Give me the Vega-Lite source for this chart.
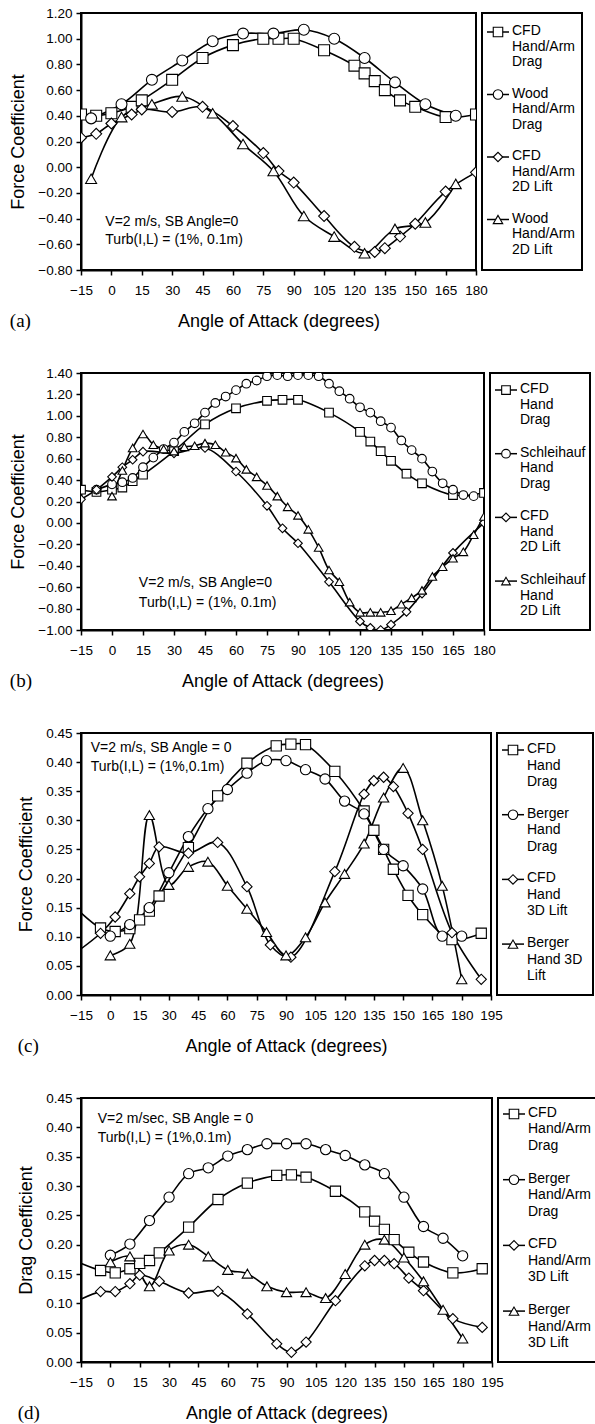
{
"$schema": "https://vega.github.io/schema/vega-lite/v6.json",
"background": "white",
"padding": {"left": 8, "top": 5, "right": 0, "bottom": 0},
"autosize": {"type": "pad"},
"spacing": 33,
"resolve": {"scale": {"shape": "independent"}},
"config": {
  "view": {"stroke": "black", "strokeWidth": 2},
  "font": "Liberation Sans",
  "axis": {"labelFont": "Liberation Sans", "labelFontSize": 13.5, "labelColor": "black", "titleFont": "Liberation Sans", "titleFontSize": 18, "titleFontWeight": "normal", "titleColor": "black", "domainColor": "black", "domainWidth": 2, "tickColor": "black", "tickWidth": 1.5, "tickSize": 5, "grid": false, "labelFlush": false, "labelOverlap": false},
  "axisX": {"labelPadding": 8, "titlePadding": 16},
  "axisY": {"labelPadding": 4, "titlePadding": 10},
  "title": {"font": "Liberation Serif", "fontSize": 19, "fontWeight": "normal", "color": "black"}
},
"datasets": {
"a": [
{"series":"CFD Hand/Arm Drag","angle":-15,"value":0.41},{"series":"CFD Hand/Arm Drag","angle":-7.5,"value":0.40},{"series":"CFD Hand/Arm Drag","angle":0,"value":0.42},{"series":"CFD Hand/Arm Drag","angle":10,"value":0.47},{"series":"CFD Hand/Arm Drag","angle":15,"value":0.52},{"series":"CFD Hand/Arm Drag","angle":30,"value":0.68},{"series":"CFD Hand/Arm Drag","angle":45,"value":0.85},{"series":"CFD Hand/Arm Drag","angle":60,"value":0.95},{"series":"CFD Hand/Arm Drag","angle":75,"value":1.00},{"series":"CFD Hand/Arm Drag","angle":82.5,"value":1.00},{"series":"CFD Hand/Arm Drag","angle":90,"value":1.00},{"series":"CFD Hand/Arm Drag","angle":105,"value":0.91},{"series":"CFD Hand/Arm Drag","angle":120,"value":0.79},{"series":"CFD Hand/Arm Drag","angle":125,"value":0.73},{"series":"CFD Hand/Arm Drag","angle":130,"value":0.67},{"series":"CFD Hand/Arm Drag","angle":135,"value":0.60},{"series":"CFD Hand/Arm Drag","angle":142.5,"value":0.52},{"series":"CFD Hand/Arm Drag","angle":150,"value":0.47},{"series":"CFD Hand/Arm Drag","angle":165,"value":0.39},{"series":"CFD Hand/Arm Drag","angle":180,"value":0.41},
{"series":"Wood Hand/Arm Drag","angle":-10,"value":0.38},{"series":"Wood Hand/Arm Drag","angle":5,"value":0.49},{"series":"Wood Hand/Arm Drag","angle":20,"value":0.68},{"series":"Wood Hand/Arm Drag","angle":35,"value":0.83},{"series":"Wood Hand/Arm Drag","angle":50,"value":0.98},{"series":"Wood Hand/Arm Drag","angle":65,"value":1.04},{"series":"Wood Hand/Arm Drag","angle":80,"value":1.04},{"series":"Wood Hand/Arm Drag","angle":95,"value":1.07},{"series":"Wood Hand/Arm Drag","angle":110,"value":1.00},{"series":"Wood Hand/Arm Drag","angle":125,"value":0.85},{"series":"Wood Hand/Arm Drag","angle":140,"value":0.66},{"series":"Wood Hand/Arm Drag","angle":155,"value":0.49},{"series":"Wood Hand/Arm Drag","angle":170,"value":0.40},
{"series":"CFD Hand/Arm 2D Lift","angle":-15,"value":0.23},{"series":"CFD Hand/Arm 2D Lift","angle":-7.5,"value":0.26},{"series":"CFD Hand/Arm 2D Lift","angle":0,"value":0.34},{"series":"CFD Hand/Arm 2D Lift","angle":10,"value":0.41},{"series":"CFD Hand/Arm 2D Lift","angle":15,"value":0.45},{"series":"CFD Hand/Arm 2D Lift","angle":30,"value":0.43},{"series":"CFD Hand/Arm 2D Lift","angle":45,"value":0.47},{"series":"CFD Hand/Arm 2D Lift","angle":60,"value":0.32},{"series":"CFD Hand/Arm 2D Lift","angle":75,"value":0.11},{"series":"CFD Hand/Arm 2D Lift","angle":82.5,"value":-0.03},{"series":"CFD Hand/Arm 2D Lift","angle":90,"value":-0.12},{"series":"CFD Hand/Arm 2D Lift","angle":105,"value":-0.38},{"series":"CFD Hand/Arm 2D Lift","angle":120,"value":-0.62},{"series":"CFD Hand/Arm 2D Lift","angle":130,"value":-0.66},{"series":"CFD Hand/Arm 2D Lift","angle":135,"value":-0.63},{"series":"CFD Hand/Arm 2D Lift","angle":142.5,"value":-0.54},{"series":"CFD Hand/Arm 2D Lift","angle":150,"value":-0.44},{"series":"CFD Hand/Arm 2D Lift","angle":165,"value":-0.19},{"series":"CFD Hand/Arm 2D Lift","angle":180,"value":-0.04},
{"series":"Wood Hand/Arm 2D Lift","angle":-10,"value":-0.09},{"series":"Wood Hand/Arm 2D Lift","angle":5,"value":0.39},{"series":"Wood Hand/Arm 2D Lift","angle":20,"value":0.49},{"series":"Wood Hand/Arm 2D Lift","angle":35,"value":0.55},{"series":"Wood Hand/Arm 2D Lift","angle":50,"value":0.42},{"series":"Wood Hand/Arm 2D Lift","angle":65,"value":0.18},{"series":"Wood Hand/Arm 2D Lift","angle":80,"value":-0.03},{"series":"Wood Hand/Arm 2D Lift","angle":95,"value":-0.38},{"series":"Wood Hand/Arm 2D Lift","angle":110,"value":-0.54},{"series":"Wood Hand/Arm 2D Lift","angle":125,"value":-0.67},{"series":"Wood Hand/Arm 2D Lift","angle":140,"value":-0.48},{"series":"Wood Hand/Arm 2D Lift","angle":155,"value":-0.43},{"series":"Wood Hand/Arm 2D Lift","angle":170,"value":-0.13}
],
"b": [
{"series":"CFD Hand Drag","angle":-15,"value":0.31},{"series":"CFD Hand Drag","angle":-7.5,"value":0.29},{"series":"CFD Hand Drag","angle":0,"value":0.31},{"series":"CFD Hand Drag","angle":5,"value":0.33},{"series":"CFD Hand Drag","angle":10,"value":0.39},{"series":"CFD Hand Drag","angle":15,"value":0.45},{"series":"CFD Hand Drag","angle":30,"value":0.67},{"series":"CFD Hand Drag","angle":45,"value":0.92},{"series":"CFD Hand Drag","angle":60,"value":1.07},{"series":"CFD Hand Drag","angle":75,"value":1.14},{"series":"CFD Hand Drag","angle":82.5,"value":1.15},{"series":"CFD Hand Drag","angle":90,"value":1.15},{"series":"CFD Hand Drag","angle":105,"value":1.03},{"series":"CFD Hand Drag","angle":120,"value":0.85},{"series":"CFD Hand Drag","angle":125,"value":0.76},{"series":"CFD Hand Drag","angle":130,"value":0.67},{"series":"CFD Hand Drag","angle":135,"value":0.58},{"series":"CFD Hand Drag","angle":142.5,"value":0.46},{"series":"CFD Hand Drag","angle":150,"value":0.37},{"series":"CFD Hand Drag","angle":165,"value":0.26},{"series":"CFD Hand Drag","angle":180,"value":0.28},
{"series":"Schleihauf Hand Drag","angle":-7.5,"value":0.31},{"series":"Schleihauf Hand Drag","angle":0,"value":0.36},{"series":"Schleihauf Hand Drag","angle":5,"value":0.38},{"series":"Schleihauf Hand Drag","angle":10,"value":0.42},{"series":"Schleihauf Hand Drag","angle":15,"value":0.52},{"series":"Schleihauf Hand Drag","angle":20,"value":0.61},{"series":"Schleihauf Hand Drag","angle":25,"value":0.69},{"series":"Schleihauf Hand Drag","angle":30,"value":0.75},{"series":"Schleihauf Hand Drag","angle":35,"value":0.85},{"series":"Schleihauf Hand Drag","angle":40,"value":0.93},{"series":"Schleihauf Hand Drag","angle":45,"value":1.03},{"series":"Schleihauf Hand Drag","angle":50,"value":1.12},{"series":"Schleihauf Hand Drag","angle":55,"value":1.18},{"series":"Schleihauf Hand Drag","angle":60,"value":1.24},{"series":"Schleihauf Hand Drag","angle":65,"value":1.30},{"series":"Schleihauf Hand Drag","angle":70,"value":1.33},{"series":"Schleihauf Hand Drag","angle":75,"value":1.37},{"series":"Schleihauf Hand Drag","angle":80,"value":1.38},{"series":"Schleihauf Hand Drag","angle":85,"value":1.37},{"series":"Schleihauf Hand Drag","angle":90,"value":1.38},{"series":"Schleihauf Hand Drag","angle":95,"value":1.38},{"series":"Schleihauf Hand Drag","angle":100,"value":1.37},{"series":"Schleihauf Hand Drag","angle":105,"value":1.30},{"series":"Schleihauf Hand Drag","angle":110,"value":1.23},{"series":"Schleihauf Hand Drag","angle":115,"value":1.16},{"series":"Schleihauf Hand Drag","angle":120,"value":1.08},{"series":"Schleihauf Hand Drag","angle":125,"value":1.03},{"series":"Schleihauf Hand Drag","angle":130,"value":0.95},{"series":"Schleihauf Hand Drag","angle":135,"value":0.89},{"series":"Schleihauf Hand Drag","angle":140,"value":0.77},{"series":"Schleihauf Hand Drag","angle":145,"value":0.68},{"series":"Schleihauf Hand Drag","angle":150,"value":0.60},{"series":"Schleihauf Hand Drag","angle":155,"value":0.48},{"series":"Schleihauf Hand Drag","angle":160,"value":0.37},{"series":"Schleihauf Hand Drag","angle":165,"value":0.31},{"series":"Schleihauf Hand Drag","angle":170,"value":0.26},{"series":"Schleihauf Hand Drag","angle":175,"value":0.25},
{"series":"CFD Hand 2D Lift","angle":-15,"value":0.22},{"series":"CFD Hand 2D Lift","angle":-7.5,"value":0.31},{"series":"CFD Hand 2D Lift","angle":0,"value":0.43},{"series":"CFD Hand 2D Lift","angle":5,"value":0.52},{"series":"CFD Hand 2D Lift","angle":10,"value":0.59},{"series":"CFD Hand 2D Lift","angle":15,"value":0.665},{"series":"CFD Hand 2D Lift","angle":30,"value":0.65},{"series":"CFD Hand 2D Lift","angle":45,"value":0.70},{"series":"CFD Hand 2D Lift","angle":60,"value":0.48},{"series":"CFD Hand 2D Lift","angle":75,"value":0.16},{"series":"CFD Hand 2D Lift","angle":82.5,"value":-0.05},{"series":"CFD Hand 2D Lift","angle":90,"value":-0.19},{"series":"CFD Hand 2D Lift","angle":105,"value":-0.55},{"series":"CFD Hand 2D Lift","angle":120,"value":-0.92},{"series":"CFD Hand 2D Lift","angle":125,"value":-0.98},{"series":"CFD Hand 2D Lift","angle":130,"value":-1.00},{"series":"CFD Hand 2D Lift","angle":135,"value":-0.95},{"series":"CFD Hand 2D Lift","angle":142.5,"value":-0.83},{"series":"CFD Hand 2D Lift","angle":150,"value":-0.66},{"series":"CFD Hand 2D Lift","angle":165,"value":-0.28},{"series":"CFD Hand 2D Lift","angle":180,"value":0.0},
{"series":"Schleihauf Hand 2D Lift","angle":0,"value":0.25},{"series":"Schleihauf Hand 2D Lift","angle":5,"value":0.49},{"series":"Schleihauf Hand 2D Lift","angle":10,"value":0.70},{"series":"Schleihauf Hand 2D Lift","angle":15,"value":0.83},{"series":"Schleihauf Hand 2D Lift","angle":20,"value":0.73},{"series":"Schleihauf Hand 2D Lift","angle":25,"value":0.69},{"series":"Schleihauf Hand 2D Lift","angle":30,"value":0.67},{"series":"Schleihauf Hand 2D Lift","angle":35,"value":0.71},{"series":"Schleihauf Hand 2D Lift","angle":40,"value":0.72},{"series":"Schleihauf Hand 2D Lift","angle":45,"value":0.745},{"series":"Schleihauf Hand 2D Lift","angle":50,"value":0.73},{"series":"Schleihauf Hand 2D Lift","angle":55,"value":0.66},{"series":"Schleihauf Hand 2D Lift","angle":60,"value":0.605},{"series":"Schleihauf Hand 2D Lift","angle":65,"value":0.50},{"series":"Schleihauf Hand 2D Lift","angle":70,"value":0.43},{"series":"Schleihauf Hand 2D Lift","angle":75,"value":0.35},{"series":"Schleihauf Hand 2D Lift","angle":80,"value":0.25},{"series":"Schleihauf Hand 2D Lift","angle":85,"value":0.15},{"series":"Schleihauf Hand 2D Lift","angle":90,"value":0.07},{"series":"Schleihauf Hand 2D Lift","angle":95,"value":-0.06},{"series":"Schleihauf Hand 2D Lift","angle":100,"value":-0.23},{"series":"Schleihauf Hand 2D Lift","angle":105,"value":-0.44},{"series":"Schleihauf Hand 2D Lift","angle":110,"value":-0.55},{"series":"Schleihauf Hand 2D Lift","angle":115,"value":-0.74},{"series":"Schleihauf Hand 2D Lift","angle":120,"value":-0.835},{"series":"Schleihauf Hand 2D Lift","angle":125,"value":-0.835},{"series":"Schleihauf Hand 2D Lift","angle":130,"value":-0.835},{"series":"Schleihauf Hand 2D Lift","angle":135,"value":-0.82},{"series":"Schleihauf Hand 2D Lift","angle":140,"value":-0.76},{"series":"Schleihauf Hand 2D Lift","angle":145,"value":-0.70},{"series":"Schleihauf Hand 2D Lift","angle":150,"value":-0.63},{"series":"Schleihauf Hand 2D Lift","angle":155,"value":-0.50},{"series":"Schleihauf Hand 2D Lift","angle":160,"value":-0.41},{"series":"Schleihauf Hand 2D Lift","angle":165,"value":-0.33},{"series":"Schleihauf Hand 2D Lift","angle":170,"value":-0.27},{"series":"Schleihauf Hand 2D Lift","angle":175,"value":-0.11},{"series":"Schleihauf Hand 2D Lift","angle":180,"value":0.06}
],
"c": [
{"series":"CFD Hand Drag","angle":-20,"value":0.157},{"series":"CFD Hand Drag","angle":-5,"value":0.115},{"series":"CFD Hand Drag","angle":2.5,"value":0.109},{"series":"CFD Hand Drag","angle":10,"value":0.114},{"series":"CFD Hand Drag","angle":15,"value":0.129},{"series":"CFD Hand Drag","angle":20,"value":0.144},{"series":"CFD Hand Drag","angle":25,"value":0.17},{"series":"CFD Hand Drag","angle":40,"value":0.253},{"series":"CFD Hand Drag","angle":55,"value":0.342},{"series":"CFD Hand Drag","angle":70,"value":0.398},{"series":"CFD Hand Drag","angle":85,"value":0.428},{"series":"CFD Hand Drag","angle":92.5,"value":0.431},{"series":"CFD Hand Drag","angle":100,"value":0.43},{"series":"CFD Hand Drag","angle":115,"value":0.384},{"series":"CFD Hand Drag","angle":130,"value":0.316},{"series":"CFD Hand Drag","angle":135,"value":0.283},{"series":"CFD Hand Drag","angle":140,"value":0.25},{"series":"CFD Hand Drag","angle":145,"value":0.216},{"series":"CFD Hand Drag","angle":152.5,"value":0.171},{"series":"CFD Hand Drag","angle":160,"value":0.138},{"series":"CFD Hand Drag","angle":175,"value":0.095},{"series":"CFD Hand Drag","angle":190,"value":0.106},
{"series":"Berger Hand Drag","angle":0,"value":0.101},{"series":"Berger Hand Drag","angle":10,"value":0.121},{"series":"Berger Hand Drag","angle":20,"value":0.150},{"series":"Berger Hand Drag","angle":30,"value":0.21},{"series":"Berger Hand Drag","angle":40,"value":0.272},{"series":"Berger Hand Drag","angle":50,"value":0.32},{"series":"Berger Hand Drag","angle":60,"value":0.353},{"series":"Berger Hand Drag","angle":70,"value":0.381},{"series":"Berger Hand Drag","angle":80,"value":0.4025},{"series":"Berger Hand Drag","angle":90,"value":0.4025},{"series":"Berger Hand Drag","angle":100,"value":0.387},{"series":"Berger Hand Drag","angle":110,"value":0.371},{"series":"Berger Hand Drag","angle":120,"value":0.333},{"series":"Berger Hand Drag","angle":130,"value":0.311},{"series":"Berger Hand Drag","angle":140,"value":0.25},{"series":"Berger Hand Drag","angle":150,"value":0.222},{"series":"Berger Hand Drag","angle":160,"value":0.182},{"series":"Berger Hand Drag","angle":170,"value":0.101},{"series":"Berger Hand Drag","angle":180,"value":0.101},
{"series":"CFD Hand 3D Lift","angle":-20,"value":0.067},{"series":"CFD Hand 3D Lift","angle":-5,"value":0.106},{"series":"CFD Hand 3D Lift","angle":2.5,"value":0.134},{"series":"CFD Hand 3D Lift","angle":10,"value":0.174},{"series":"CFD Hand 3D Lift","angle":15,"value":0.203},{"series":"CFD Hand 3D Lift","angle":20,"value":0.226},{"series":"CFD Hand 3D Lift","angle":25,"value":0.2545},{"series":"CFD Hand 3D Lift","angle":40,"value":0.2436},{"series":"CFD Hand 3D Lift","angle":55,"value":0.262},{"series":"CFD Hand 3D Lift","angle":70,"value":0.186},{"series":"CFD Hand 3D Lift","angle":82,"value":0.086},{"series":"CFD Hand 3D Lift","angle":92.5,"value":0.065},{"series":"CFD Hand 3D Lift","angle":115,"value":0.212},{"series":"CFD Hand 3D Lift","angle":130,"value":0.345},{"series":"CFD Hand 3D Lift","angle":135,"value":0.368},{"series":"CFD Hand 3D Lift","angle":140,"value":0.374},{"series":"CFD Hand 3D Lift","angle":145,"value":0.358},{"series":"CFD Hand 3D Lift","angle":152.5,"value":0.312},{"series":"CFD Hand 3D Lift","angle":160,"value":0.25},{"series":"CFD Hand 3D Lift","angle":175,"value":0.107},{"series":"CFD Hand 3D Lift","angle":190,"value":0.027},
{"series":"Berger Hand 3D Lift","angle":0,"value":0.068},{"series":"Berger Hand 3D Lift","angle":10,"value":0.088},{"series":"Berger Hand 3D Lift","angle":20,"value":0.309},{"series":"Berger Hand 3D Lift","angle":30,"value":0.189},{"series":"Berger Hand 3D Lift","angle":40,"value":0.22},{"series":"Berger Hand 3D Lift","angle":50,"value":0.229},{"series":"Berger Hand 3D Lift","angle":60,"value":0.1875},{"series":"Berger Hand 3D Lift","angle":70,"value":0.148},{"series":"Berger Hand 3D Lift","angle":80,"value":0.108},{"series":"Berger Hand 3D Lift","angle":90,"value":0.068},{"series":"Berger Hand 3D Lift","angle":100,"value":0.099},{"series":"Berger Hand 3D Lift","angle":110,"value":0.159},{"series":"Berger Hand 3D Lift","angle":120,"value":0.208},{"series":"Berger Hand 3D Lift","angle":130,"value":0.26},{"series":"Berger Hand 3D Lift","angle":140,"value":0.339},{"series":"Berger Hand 3D Lift","angle":150,"value":0.39},{"series":"Berger Hand 3D Lift","angle":160,"value":0.30},{"series":"Berger Hand 3D Lift","angle":170,"value":0.1875},{"series":"Berger Hand 3D Lift","angle":180,"value":0.027}
],
"d": [
{"series":"CFD Hand/Arm Drag","angle":-20,"value":0.175},{"series":"CFD Hand/Arm Drag","angle":-5,"value":0.156},{"series":"CFD Hand/Arm Drag","angle":2.5,"value":0.152},{"series":"CFD Hand/Arm Drag","angle":10,"value":0.159},{"series":"CFD Hand/Arm Drag","angle":15,"value":0.168},{"series":"CFD Hand/Arm Drag","angle":20,"value":0.173},{"series":"CFD Hand/Arm Drag","angle":25,"value":0.186},{"series":"CFD Hand/Arm Drag","angle":40,"value":0.230},{"series":"CFD Hand/Arm Drag","angle":55,"value":0.277},{"series":"CFD Hand/Arm Drag","angle":70,"value":0.305},{"series":"CFD Hand/Arm Drag","angle":85,"value":0.318},{"series":"CFD Hand/Arm Drag","angle":92.5,"value":0.319},{"series":"CFD Hand/Arm Drag","angle":100,"value":0.315},{"series":"CFD Hand/Arm Drag","angle":115,"value":0.291},{"series":"CFD Hand/Arm Drag","angle":130,"value":0.256},{"series":"CFD Hand/Arm Drag","angle":135,"value":0.24},{"series":"CFD Hand/Arm Drag","angle":140,"value":0.226},{"series":"CFD Hand/Arm Drag","angle":145,"value":0.2085},{"series":"CFD Hand/Arm Drag","angle":152.5,"value":0.187},{"series":"CFD Hand/Arm Drag","angle":160,"value":0.1705},{"series":"CFD Hand/Arm Drag","angle":175,"value":0.152},{"series":"CFD Hand/Arm Drag","angle":190,"value":0.159},
{"series":"Berger Hand/Arm Drag","angle":0,"value":0.182},{"series":"Berger Hand/Arm Drag","angle":10,"value":0.201},{"series":"Berger Hand/Arm Drag","angle":20,"value":0.241},{"series":"Berger Hand/Arm Drag","angle":30,"value":0.281},{"series":"Berger Hand/Arm Drag","angle":40,"value":0.321},{"series":"Berger Hand/Arm Drag","angle":50,"value":0.331},{"series":"Berger Hand/Arm Drag","angle":60,"value":0.351},{"series":"Berger Hand/Arm Drag","angle":70,"value":0.362},{"series":"Berger Hand/Arm Drag","angle":80,"value":0.372},{"series":"Berger Hand/Arm Drag","angle":90,"value":0.372},{"series":"Berger Hand/Arm Drag","angle":100,"value":0.372},{"series":"Berger Hand/Arm Drag","angle":110,"value":0.362},{"series":"Berger Hand/Arm Drag","angle":120,"value":0.352},{"series":"Berger Hand/Arm Drag","angle":130,"value":0.336},{"series":"Berger Hand/Arm Drag","angle":140,"value":0.321},{"series":"Berger Hand/Arm Drag","angle":150,"value":0.281},{"series":"Berger Hand/Arm Drag","angle":160,"value":0.231},{"series":"Berger Hand/Arm Drag","angle":170,"value":0.211},{"series":"Berger Hand/Arm Drag","angle":180,"value":0.181},
{"series":"CFD Hand/Arm 3D Lift","angle":-20,"value":0.099},{"series":"CFD Hand/Arm 3D Lift","angle":-5,"value":0.120},{"series":"CFD Hand/Arm 3D Lift","angle":2.5,"value":0.120},{"series":"CFD Hand/Arm 3D Lift","angle":10,"value":0.1335},{"series":"CFD Hand/Arm 3D Lift","angle":15,"value":0.148},{"series":"CFD Hand/Arm 3D Lift","angle":25,"value":0.1375},{"series":"CFD Hand/Arm 3D Lift","angle":40,"value":0.1176},{"series":"CFD Hand/Arm 3D Lift","angle":55,"value":0.1205},{"series":"CFD Hand/Arm 3D Lift","angle":70,"value":0.082},{"series":"CFD Hand/Arm 3D Lift","angle":85,"value":0.031},{"series":"CFD Hand/Arm 3D Lift","angle":92.5,"value":0.0165},{"series":"CFD Hand/Arm 3D Lift","angle":100,"value":0.034},{"series":"CFD Hand/Arm 3D Lift","angle":115,"value":0.1045},{"series":"CFD Hand/Arm 3D Lift","angle":130,"value":0.164},{"series":"CFD Hand/Arm 3D Lift","angle":135,"value":0.173},{"series":"CFD Hand/Arm 3D Lift","angle":140,"value":0.173},{"series":"CFD Hand/Arm 3D Lift","angle":145,"value":0.1676},{"series":"CFD Hand/Arm 3D Lift","angle":152.5,"value":0.143},{"series":"CFD Hand/Arm 3D Lift","angle":160,"value":0.1216},{"series":"CFD Hand/Arm 3D Lift","angle":175,"value":0.0739},{"series":"CFD Hand/Arm 3D Lift","angle":190,"value":0.059},
{"series":"Berger Hand/Arm 3D Lift","angle":0,"value":0.170},{"series":"Berger Hand/Arm 3D Lift","angle":10,"value":0.180},{"series":"Berger Hand/Arm 3D Lift","angle":20,"value":0.129},{"series":"Berger Hand/Arm 3D Lift","angle":30,"value":0.19},{"series":"Berger Hand/Arm 3D Lift","angle":40,"value":0.20},{"series":"Berger Hand/Arm 3D Lift","angle":50,"value":0.180},{"series":"Berger Hand/Arm 3D Lift","angle":60,"value":0.157},{"series":"Berger Hand/Arm 3D Lift","angle":70,"value":0.1506},{"series":"Berger Hand/Arm 3D Lift","angle":80,"value":0.129},{"series":"Berger Hand/Arm 3D Lift","angle":90,"value":0.119},{"series":"Berger Hand/Arm 3D Lift","angle":100,"value":0.119},{"series":"Berger Hand/Arm 3D Lift","angle":110,"value":0.109},{"series":"Berger Hand/Arm 3D Lift","angle":120,"value":0.150},{"series":"Berger Hand/Arm 3D Lift","angle":130,"value":0.20},{"series":"Berger Hand/Arm 3D Lift","angle":140,"value":0.2085},{"series":"Berger Hand/Arm 3D Lift","angle":150,"value":0.178},{"series":"Berger Hand/Arm 3D Lift","angle":160,"value":0.1375},{"series":"Berger Hand/Arm 3D Lift","angle":170,"value":0.089},{"series":"Berger Hand/Arm 3D Lift","angle":180,"value":0.04}
],
"la": [
{"order":0,"series":"CFD Hand/Arm Drag","label":"CFD\nHand/Arm\nDrag"},
{"order":1,"series":"Wood Hand/Arm Drag","label":"Wood\nHand/Arm\nDrag"},
{"order":2,"series":"CFD Hand/Arm 2D Lift","label":"CFD\nHand/Arm\n2D Lift"},
{"order":3,"series":"Wood Hand/Arm 2D Lift","label":"Wood\nHand/Arm\n2D Lift"}
],
"lb": [
{"order":0,"series":"CFD Hand Drag","label":"CFD\nHand\nDrag"},
{"order":1,"series":"Schleihauf Hand Drag","label":"Schleihauf\nHand\nDrag"},
{"order":2,"series":"CFD Hand 2D Lift","label":"CFD\nHand\n2D Lift"},
{"order":3,"series":"Schleihauf Hand 2D Lift","label":"Schleihauf\nHand\n2D Lift"}
],
"lc": [
{"order":0,"series":"CFD Hand Drag","label":"CFD\nHand\nDrag"},
{"order":1,"series":"Berger Hand Drag","label":"Berger\nHand\nDrag"},
{"order":2,"series":"CFD Hand 3D Lift","label":"CFD\nHand\n3D Lift"},
{"order":3,"series":"Berger Hand 3D Lift","label":"Berger\nHand 3D\nLift"}
],
"ld": [
{"order":0,"series":"CFD Hand/Arm Drag","label":"CFD\nHand/Arm\nDrag"},
{"order":1,"series":"Berger Hand/Arm Drag","label":"Berger\nHand/Arm\nDrag"},
{"order":2,"series":"CFD Hand/Arm 3D Lift","label":"CFD\nHand/Arm\n3D Lift"},
{"order":3,"series":"Berger Hand/Arm 3D Lift","label":"Berger\nHand/Arm\n3D Lift"}
]
},
"vconcat": [
{"hconcat": [
{
 "width": 395, "height": 257,
 "title": {"text": "(a)", "orient": "bottom", "anchor": "start", "frame": "bounds", "offset": -19},
 "layer": [
  {"data": {"name": "a"},
   "mark": {"type": "line", "interpolate": "catmull-rom", "color": "black", "strokeWidth": 1.6, "clip": true},
   "encoding": {
    "x": {"field": "angle", "type": "quantitative", "scale": {"domain": [-15, 180], "nice": false, "zero": false}, "axis": {"title": "Angle of Attack (degrees)", "labelOverlap": false, "values": [-15,0,15,30,45,60,75,90,105,120,135,150,165,180]}},
    "y": {"field": "value", "type": "quantitative", "scale": {"domain": [-0.8, 1.2], "nice": false, "zero": false}, "axis": {"title": "Force Coefficient", "labelOverlap": false, "format": ".2f", "values": [-0.8,-0.6,-0.4,-0.2,0,0.2,0.4,0.6,0.8,1.0,1.2]}},
    "detail": {"field": "series"}}},
  {"data": {"name": "a"},
   "mark": {"type": "point", "filled": true, "fill": "white", "stroke": "black", "strokeWidth": 1.1, "opacity": 1, "size": 120, "clip": true},
   "encoding": {
    "x": {"field": "angle", "type": "quantitative", "scale": {"domain": [-15, 180], "nice": false, "zero": false}, "axis": {"title": "Angle of Attack (degrees)", "labelOverlap": false, "values": [-15,0,15,30,45,60,75,90,105,120,135,150,165,180]}},
    "y": {"field": "value", "type": "quantitative", "scale": {"domain": [-0.8, 1.2], "nice": false, "zero": false}, "axis": {"title": "Force Coefficient", "labelOverlap": false, "format": ".2f", "values": [-0.8,-0.6,-0.4,-0.2,0,0.2,0.4,0.6,0.8,1.0,1.2]}},
    "shape": {"field": "series", "type": "nominal", "scale": {"domain": ["CFD Hand/Arm Drag","Wood Hand/Arm Drag","CFD Hand/Arm 2D Lift","Wood Hand/Arm 2D Lift"], "range": ["square","circle","diamond","triangle-up"]}, "legend": null}}},
  {"data": {"values": [{}]},
   "mark": {"type": "text", "text": ["V=2 m/s, SB Angle=0", "Turb(I,L) = (1%, 0.1m)"], "align": "left", "baseline": "top", "fontSize": 14, "lineHeight": 18.5, "color": "black"},
   "encoding": {
    "x": {"datum": -3, "type": "quantitative", "scale": {"domain": [-15, 180], "nice": false, "zero": false}, "axis": {"title": "Angle of Attack (degrees)", "labelOverlap": false, "values": [-15,0,15,30,45,60,75,90,105,120,135,150,165,180]}},
    "y": {"datum": -0.37, "type": "quantitative", "scale": {"domain": [-0.8, 1.2], "nice": false, "zero": false}, "axis": {"title": "Force Coefficient", "labelOverlap": false, "format": ".2f", "values": [-0.8,-0.6,-0.4,-0.2,0,0.2,0.4,0.6,0.8,1.0,1.2]}}}}
 ]
},
{
 "width": 100, "height": 257,
 "data": {"name": "la"},
 "encoding": {
  "y": {"field": "order", "type": "quantitative", "scale": {"domain": [-0.304, 3.808], "reverse": true, "nice": false, "zero": false}, "axis": null}
 },
 "layer": [
  {"mark": {"type": "rule", "color": "black", "strokeWidth": 1.5}, "encoding": {"x": {"datum": 5, "type": "quantitative", "scale": {"domain": [0, 100], "nice": false}, "axis": null}, "x2": {"datum": 27}}},
  {"mark": {"type": "point", "filled": true, "fill": "white", "stroke": "black", "strokeWidth": 1.1, "opacity": 1, "size": 90},
   "encoding": {"x": {"datum": 16, "type": "quantitative"}, "shape": {"field": "series", "type": "nominal", "scale": {"domain": ["CFD Hand/Arm Drag","Wood Hand/Arm Drag","CFD Hand/Arm 2D Lift","Wood Hand/Arm 2D Lift"], "range": ["square","circle","diamond","triangle-up"]}, "legend": null}}},
  {"mark": {"type": "text", "align": "left", "baseline": "top", "dy": -8, "lineBreak": "\n", "fontSize": 14, "lineHeight": 15.5, "color": "black"},
   "encoding": {"x": {"datum": 30, "type": "quantitative"}, "text": {"field": "label"}}}
 ]
}
], "bounds": "flush", "spacing": 6},
{"hconcat": [
{
 "width": 403, "height": 257,
 "title": {"text": "(b)", "orient": "bottom", "anchor": "start", "frame": "bounds", "offset": -19},
 "layer": [
  {"data": {"name": "b"},
   "mark": {"type": "line", "interpolate": "catmull-rom", "color": "black", "strokeWidth": 1.6, "clip": true},
   "encoding": {
    "x": {"field": "angle", "type": "quantitative", "scale": {"domain": [-15, 180], "nice": false, "zero": false}, "axis": {"title": "Angle of Attack (degrees)", "labelOverlap": false, "values": [-15,0,15,30,45,60,75,90,105,120,135,150,165,180]}},
    "y": {"field": "value", "type": "quantitative", "scale": {"domain": [-1.0, 1.4], "nice": false, "zero": false}, "axis": {"title": "Force Coefficient", "labelOverlap": false, "format": ".2f", "values": [-1.0,-0.8,-0.6,-0.4,-0.2,0,0.2,0.4,0.6,0.8,1.0,1.2,1.4]}},
    "detail": {"field": "series"}}},
  {"data": {"name": "b"},
   "mark": {"type": "point", "filled": true, "fill": "white", "stroke": "black", "strokeWidth": 1.1, "opacity": 1, "size": 75, "clip": true},
   "encoding": {
    "x": {"field": "angle", "type": "quantitative", "scale": {"domain": [-15, 180], "nice": false, "zero": false}, "axis": {"title": "Angle of Attack (degrees)", "labelOverlap": false, "values": [-15,0,15,30,45,60,75,90,105,120,135,150,165,180]}},
    "y": {"field": "value", "type": "quantitative", "scale": {"domain": [-1.0, 1.4], "nice": false, "zero": false}, "axis": {"title": "Force Coefficient", "labelOverlap": false, "format": ".2f", "values": [-1.0,-0.8,-0.6,-0.4,-0.2,0,0.2,0.4,0.6,0.8,1.0,1.2,1.4]}},
    "shape": {"field": "series", "type": "nominal", "scale": {"domain": ["CFD Hand Drag","Schleihauf Hand Drag","CFD Hand 2D Lift","Schleihauf Hand 2D Lift"], "range": ["square","circle","diamond","triangle-up"]}, "legend": null}}},
  {"data": {"values": [{}]},
   "mark": {"type": "text", "text": ["V=2 m/s, SB Angle=0", "Turb(I,L) = (1%, 0.1m)"], "align": "left", "baseline": "top", "fontSize": 14, "lineHeight": 19.3, "color": "black"},
   "encoding": {
    "x": {"datum": 13, "type": "quantitative", "scale": {"domain": [-15, 180], "nice": false, "zero": false}, "axis": {"title": "Angle of Attack (degrees)", "labelOverlap": false, "values": [-15,0,15,30,45,60,75,90,105,120,135,150,165,180]}},
    "y": {"datum": -0.5, "type": "quantitative", "scale": {"domain": [-1.0, 1.4], "nice": false, "zero": false}, "axis": {"title": "Force Coefficient", "labelOverlap": false, "format": ".2f", "values": [-1.0,-0.8,-0.6,-0.4,-0.2,0,0.2,0.4,0.6,0.8,1.0,1.2,1.4]}}}}
 ]
},
{
 "width": 100, "height": 257,
 "data": {"name": "lb"},
 "encoding": {
  "y": {"field": "order", "type": "quantitative", "scale": {"domain": [-0.267, 3.768], "reverse": true, "nice": false, "zero": false}, "axis": null}
 },
 "layer": [
  {"mark": {"type": "rule", "color": "black", "strokeWidth": 1.5}, "encoding": {"x": {"datum": 5, "type": "quantitative", "scale": {"domain": [0, 100], "nice": false}, "axis": null}, "x2": {"datum": 27}}},
  {"mark": {"type": "point", "filled": true, "fill": "white", "stroke": "black", "strokeWidth": 1.1, "opacity": 1, "size": 75},
   "encoding": {"x": {"datum": 16, "type": "quantitative"}, "shape": {"field": "series", "type": "nominal", "scale": {"domain": ["CFD Hand Drag","Schleihauf Hand Drag","CFD Hand 2D Lift","Schleihauf Hand 2D Lift"], "range": ["square","circle","diamond","triangle-up"]}, "legend": null}}},
  {"mark": {"type": "text", "align": "left", "baseline": "top", "dy": -8, "lineBreak": "\n", "fontSize": 14, "lineHeight": 15.5, "color": "black"},
   "encoding": {"x": {"datum": 30, "type": "quantitative"}, "text": {"field": "label"}}}
 ]
}
], "bounds": "flush", "spacing": 6},
{"hconcat": [
{
 "width": 410, "height": 262,
 "title": {"text": "(c)", "orient": "bottom", "anchor": "start", "frame": "bounds", "offset": -19},
 "layer": [
  {"data": {"name": "c"},
   "mark": {"type": "line", "interpolate": "catmull-rom", "color": "black", "strokeWidth": 1.6, "clip": true},
   "encoding": {
    "x": {"field": "angle", "type": "quantitative", "scale": {"domain": [-15, 195], "nice": false, "zero": false}, "axis": {"title": "Angle of Attack (degrees)", "labelOverlap": false, "values": [-15,0,15,30,45,60,75,90,105,120,135,150,165,180,195]}},
    "y": {"field": "value", "type": "quantitative", "scale": {"domain": [0, 0.45], "nice": false, "zero": false}, "axis": {"title": "Force Coefficient", "labelOverlap": false, "format": ".2f", "values": [0,0.05,0.1,0.15,0.2,0.25,0.3,0.35,0.4,0.45]}},
    "detail": {"field": "series"}}},
  {"data": {"name": "c"},
   "mark": {"type": "point", "filled": true, "fill": "white", "stroke": "black", "strokeWidth": 1.1, "opacity": 1, "size": 105, "clip": true},
   "encoding": {
    "x": {"field": "angle", "type": "quantitative", "scale": {"domain": [-15, 195], "nice": false, "zero": false}, "axis": {"title": "Angle of Attack (degrees)", "labelOverlap": false, "values": [-15,0,15,30,45,60,75,90,105,120,135,150,165,180,195]}},
    "y": {"field": "value", "type": "quantitative", "scale": {"domain": [0, 0.45], "nice": false, "zero": false}, "axis": {"title": "Force Coefficient", "labelOverlap": false, "format": ".2f", "values": [0,0.05,0.1,0.15,0.2,0.25,0.3,0.35,0.4,0.45]}},
    "shape": {"field": "series", "type": "nominal", "scale": {"domain": ["CFD Hand Drag","Berger Hand Drag","CFD Hand 3D Lift","Berger Hand 3D Lift"], "range": ["square","circle","diamond","triangle-up"]}, "legend": null}}},
  {"data": {"values": [{}]},
   "mark": {"type": "text", "text": ["V=2 m/s, SB Angle = 0", "Turb(I,L) = (1%,0.1m)"], "align": "left", "baseline": "top", "fontSize": 14, "lineHeight": 19.3, "color": "black"},
   "encoding": {
    "x": {"datum": -10, "type": "quantitative", "scale": {"domain": [-15, 195], "nice": false, "zero": false}, "axis": {"title": "Angle of Attack (degrees)", "labelOverlap": false, "values": [-15,0,15,30,45,60,75,90,105,120,135,150,165,180,195]}},
    "y": {"datum": 0.437, "type": "quantitative", "scale": {"domain": [0, 0.45], "nice": false, "zero": false}, "axis": {"title": "Force Coefficient", "labelOverlap": false, "format": ".2f", "values": [0,0.05,0.1,0.15,0.2,0.25,0.3,0.35,0.4,0.45]}}}}
 ]
},
{
 "width": 96, "height": 262,
 "data": {"name": "lc"},
 "encoding": {
  "y": {"field": "order", "type": "quantitative", "scale": {"domain": [-0.263, 3.787], "reverse": true, "nice": false, "zero": false}, "axis": null}
 },
 "layer": [
  {"mark": {"type": "rule", "color": "black", "strokeWidth": 1.5}, "encoding": {"x": {"datum": 5, "type": "quantitative", "scale": {"domain": [0, 96], "nice": false}, "axis": null}, "x2": {"datum": 27}}},
  {"mark": {"type": "point", "filled": true, "fill": "white", "stroke": "black", "strokeWidth": 1.1, "opacity": 1, "size": 90},
   "encoding": {"x": {"datum": 16, "type": "quantitative"}, "shape": {"field": "series", "type": "nominal", "scale": {"domain": ["CFD Hand Drag","Berger Hand Drag","CFD Hand 3D Lift","Berger Hand 3D Lift"], "range": ["square","circle","diamond","triangle-up"]}, "legend": null}}},
  {"mark": {"type": "text", "align": "left", "baseline": "top", "dy": -8, "lineBreak": "\n", "fontSize": 14, "lineHeight": 16.5, "color": "black"},
   "encoding": {"x": {"datum": 30, "type": "quantitative"}, "text": {"field": "label"}}}
 ]
}
], "bounds": "flush", "spacing": 6},
{"hconcat": [
{
 "width": 411, "height": 264,
 "title": {"text": "(d)", "orient": "bottom", "anchor": "start", "frame": "bounds", "offset": -19},
 "layer": [
  {"data": {"name": "d"},
   "mark": {"type": "line", "interpolate": "catmull-rom", "color": "black", "strokeWidth": 1.6, "clip": true},
   "encoding": {
    "x": {"field": "angle", "type": "quantitative", "scale": {"domain": [-15, 195], "nice": false, "zero": false}, "axis": {"title": "Angle of Attack (degrees)", "labelOverlap": false, "values": [-15,0,15,30,45,60,75,90,105,120,135,150,165,180,195]}},
    "y": {"field": "value", "type": "quantitative", "scale": {"domain": [0, 0.45], "nice": false, "zero": false}, "axis": {"title": "Drag Coefficient", "labelOverlap": false, "format": ".2f", "values": [0,0.05,0.1,0.15,0.2,0.25,0.3,0.35,0.4,0.45]}},
    "detail": {"field": "series"}}},
  {"data": {"name": "d"},
   "mark": {"type": "point", "filled": true, "fill": "white", "stroke": "black", "strokeWidth": 1.1, "opacity": 1, "size": 105, "clip": true},
   "encoding": {
    "x": {"field": "angle", "type": "quantitative", "scale": {"domain": [-15, 195], "nice": false, "zero": false}, "axis": {"title": "Angle of Attack (degrees)", "labelOverlap": false, "values": [-15,0,15,30,45,60,75,90,105,120,135,150,165,180,195]}},
    "y": {"field": "value", "type": "quantitative", "scale": {"domain": [0, 0.45], "nice": false, "zero": false}, "axis": {"title": "Drag Coefficient", "labelOverlap": false, "format": ".2f", "values": [0,0.05,0.1,0.15,0.2,0.25,0.3,0.35,0.4,0.45]}},
    "shape": {"field": "series", "type": "nominal", "scale": {"domain": ["CFD Hand/Arm Drag","Berger Hand/Arm Drag","CFD Hand/Arm 3D Lift","Berger Hand/Arm 3D Lift"], "range": ["square","circle","diamond","triangle-up"]}, "legend": null}}},
  {"data": {"values": [{}]},
   "mark": {"type": "text", "text": ["V=2 m/sec, SB Angle = 0", "Turb(I,L) = (1%,0.1m)"], "align": "left", "baseline": "top", "fontSize": 14, "lineHeight": 19, "color": "black"},
   "encoding": {
    "x": {"datum": -6.5, "type": "quantitative", "scale": {"domain": [-15, 195], "nice": false, "zero": false}, "axis": {"title": "Angle of Attack (degrees)", "labelOverlap": false, "values": [-15,0,15,30,45,60,75,90,105,120,135,150,165,180,195]}},
    "y": {"datum": 0.4256, "type": "quantitative", "scale": {"domain": [0, 0.45], "nice": false, "zero": false}, "axis": {"title": "Drag Coefficient", "labelOverlap": false, "format": ".2f", "values": [0,0.05,0.1,0.15,0.2,0.25,0.3,0.35,0.4,0.45]}}}}
 ]
},
{
 "width": 98, "height": 264,
 "data": {"name": "ld"},
 "encoding": {
  "y": {"field": "order", "type": "quantitative", "scale": {"domain": [-0.2435, 3.775], "reverse": true, "nice": false, "zero": false}, "axis": null}
 },
 "layer": [
  {"mark": {"type": "rule", "color": "black", "strokeWidth": 1.5}, "encoding": {"x": {"datum": 5, "type": "quantitative", "scale": {"domain": [0, 98], "nice": false}, "axis": null}, "x2": {"datum": 27}}},
  {"mark": {"type": "point", "filled": true, "fill": "white", "stroke": "black", "strokeWidth": 1.1, "opacity": 1, "size": 90},
   "encoding": {"x": {"datum": 16, "type": "quantitative"}, "shape": {"field": "series", "type": "nominal", "scale": {"domain": ["CFD Hand/Arm Drag","Berger Hand/Arm Drag","CFD Hand/Arm 3D Lift","Berger Hand/Arm 3D Lift"], "range": ["square","circle","diamond","triangle-up"]}, "legend": null}}},
  {"mark": {"type": "text", "align": "left", "baseline": "top", "dy": -8, "lineBreak": "\n", "fontSize": 14, "lineHeight": 16.5, "color": "black"},
   "encoding": {"x": {"datum": 30, "type": "quantitative"}, "text": {"field": "label"}}}
 ]
}
], "bounds": "flush", "spacing": 6}
]
}
